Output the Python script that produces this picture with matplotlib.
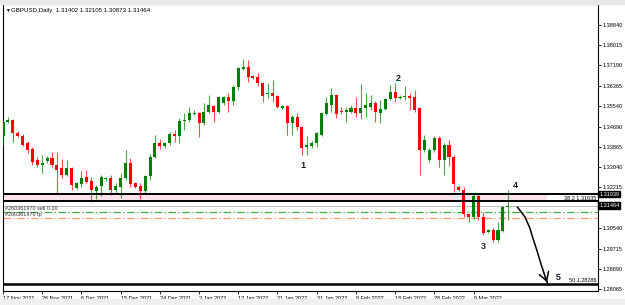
import matplotlib.pyplot as plt
from matplotlib.patches import Rectangle

plt.rcParams['font.family'] = ['Liberation Sans', 'DejaVu Sans']

# --- Data: GBPUSD daily candles ---
opens = [1.3431, 1.3488, 1.3496, 1.3443, 1.3431, 1.3402, 1.3378, 1.3333, 1.3312, 1.3329,
         1.3341, 1.3312, 1.3300, 1.3272, 1.3300, 1.3218, 1.3235, 1.3263, 1.3247, 1.3206,
         1.3227, 1.3255, 1.3259, 1.3210, 1.3223, 1.3259, 1.3321, 1.3239, 1.3227, 1.3206,
         1.3268, 1.3345, 1.3402, 1.3390, 1.3402, 1.3439, 1.3431, 1.3492, 1.3496, 1.3521,
         1.3525, 1.3484, 1.3529, 1.3553, 1.3529, 1.3565, 1.3590, 1.3574, 1.3631, 1.3704,
         1.3712, 1.3676, 1.3671, 1.3647, 1.3602, 1.3606, 1.3594, 1.3545, 1.3553, 1.3484,
         1.3508, 1.3467, 1.3386, 1.3390, 1.3402, 1.3435, 1.3521, 1.3557, 1.3598, 1.3533,
         1.3529, 1.3529, 1.3545, 1.3525, 1.3545, 1.3549, 1.3565, 1.3525, 1.3541, 1.3582,
         1.3610, 1.3586, 1.3590, 1.3594, 1.3590, 1.3545, 1.3374, 1.3333, 1.3374, 1.3423,
         1.3333, 1.3394, 1.3345, 1.3223, 1.3210, 1.3112, 1.3100, 1.3186, 1.3100, 1.3039,
         1.3047, 1.3006, 1.3043, 1.31402]
highs = [1.3496, 1.3508, 1.3500, 1.3451, 1.3439, 1.3410, 1.3386, 1.3345, 1.3353, 1.3349,
         1.3365, 1.3365, 1.3337, 1.3333, 1.3304, 1.3243, 1.3288, 1.3292, 1.3263, 1.3231,
         1.3272, 1.3263, 1.3272, 1.3239, 1.3280, 1.3374, 1.3341, 1.3243, 1.3239, 1.3272,
         1.3357, 1.3435, 1.3418, 1.3406, 1.3447, 1.3455, 1.3504, 1.3525, 1.3549, 1.3537,
         1.3529, 1.3565, 1.3598, 1.3557, 1.3594, 1.3594, 1.3606, 1.3639, 1.3712, 1.3745,
         1.3741, 1.3680, 1.3688, 1.3651, 1.3647, 1.3659, 1.3598, 1.3557, 1.3557, 1.3516,
         1.3525, 1.3471, 1.3431, 1.3410, 1.3447, 1.3529, 1.3590, 1.3627, 1.3602, 1.3549,
         1.3549, 1.3557, 1.3590, 1.3643, 1.3606, 1.3598, 1.3574, 1.3578, 1.3586, 1.3639,
         1.3647, 1.3598, 1.3635, 1.3606, 1.3618, 1.3549, 1.3435, 1.3382, 1.3431, 1.3431,
         1.3402, 1.3414, 1.3353, 1.3231, 1.3223, 1.3116, 1.3194, 1.3194, 1.3121, 1.3051,
         1.3055, 1.3080, 1.3145, 1.32105]
lows = [1.3394, 1.3484, 1.3406, 1.3427, 1.3390, 1.3361, 1.3312, 1.3304, 1.3280, 1.3321,
        1.3304, 1.3198, 1.3259, 1.3268, 1.3210, 1.3215, 1.3223, 1.3239, 1.3161, 1.3174,
        1.3186, 1.3247, 1.3190, 1.3198, 1.3178, 1.3251, 1.3223, 1.3219, 1.3174, 1.3198,
        1.3251, 1.3341, 1.3378, 1.3382, 1.3394, 1.3406, 1.3402, 1.3455, 1.3488, 1.3516,
        1.3427, 1.3476, 1.3525, 1.3488, 1.3525, 1.3557, 1.3529, 1.3557, 1.3618, 1.3700,
        1.3651, 1.3663, 1.3635, 1.3569, 1.3586, 1.3569, 1.3545, 1.3541, 1.3435, 1.3435,
        1.3455, 1.3353, 1.3353, 1.3382, 1.3386, 1.3431, 1.3516, 1.3529, 1.3504, 1.3521,
        1.3488, 1.3525, 1.3508, 1.3500, 1.3508, 1.3537, 1.3488, 1.3484, 1.3537, 1.3578,
        1.3569, 1.3582, 1.3578, 1.3537, 1.3529, 1.3272, 1.3365, 1.3325, 1.3365, 1.3304,
        1.3272, 1.3308, 1.3202, 1.3206, 1.3100, 1.3080, 1.3092, 1.3088, 1.3027, 1.3035,
        1.2998, 1.2998, 1.3039, 1.30873]
closes = [1.3488, 1.3496, 1.3443, 1.3431, 1.3394, 1.3374, 1.3325, 1.3312, 1.3321, 1.3341,
          1.3312, 1.3292, 1.3272, 1.3300, 1.3231, 1.3239, 1.3259, 1.3243, 1.3210, 1.3223,
          1.3263, 1.3259, 1.3210, 1.3227, 1.3259, 1.3321, 1.3235, 1.3223, 1.3206, 1.3268,
          1.3345, 1.3402, 1.3390, 1.3402, 1.3439, 1.3431, 1.3492, 1.3496, 1.3525, 1.3525,
          1.3484, 1.3529, 1.3557, 1.3529, 1.3590, 1.3590, 1.3574, 1.3631, 1.3708, 1.3712,
          1.3671, 1.3667, 1.3647, 1.3594, 1.3606, 1.3594, 1.3549, 1.3553, 1.3484, 1.3508,
          1.3467, 1.3382, 1.3394, 1.3402, 1.3443, 1.3525, 1.3565, 1.3598, 1.3521, 1.3529,
          1.3537, 1.3545, 1.3525, 1.3545, 1.3557, 1.3565, 1.3529, 1.3541, 1.3582, 1.3610,
          1.3586, 1.3590, 1.3594, 1.3586, 1.3537, 1.3374, 1.3414, 1.3374, 1.3423, 1.3333,
          1.3394, 1.3345, 1.3235, 1.3210, 1.3112, 1.3100, 1.3186, 1.3100, 1.3035, 1.3047,
          1.3006, 1.3047, 1.3141, 1.31464]

date_labels = ["17 Nov 2021", "26 Nov 2021", "6 Dec 2021", "15 Dec 2021", "24 Dec 2021",
               "3 Jan 2022", "12 Jan 2022", "21 Jan 2022", "31 Jan 2022", "9 Feb 2022",
               "18 Feb 2022", "28 Feb 2022", "9 Mar 2022"]
date_idx = [0, 8, 16, 24, 32, 40, 48, 56, 64, 72, 80, 88, 96]

price_ticks = [1.38840, 1.38015, 1.37190, 1.36365, 1.35540, 1.34690, 1.33865,
               1.33040, 1.32215, 1.30540, 1.29715, 1.28890, 1.28065]

hline_price = 1.31939
bid_price = 1.31464
fib_382 = 1.31635
fib_50 = 1.28286
sell_price = 1.31219
tp_price = 1.30974

wave_labels = ["1", "2", "3", "4", "5"]
wave_x = [61.3, 80.7, 98.0, 104.5, 113.2]
wave_y = [1.3312, 1.3667, 1.2978, 1.3227, 1.2855]

arrow_x = [105.0, 106.5, 107.5, 108.1, 108.9, 109.7, 110.5, 111.2]
arrow_y = [1.3140, 1.3100, 1.3055, 1.3015, 1.2966, 1.2913, 1.2864, 1.2823]

# --- Plot ---
fig = plt.figure(figsize=(6.25, 3.05), dpi=100)
fig.patches.append(Rectangle((0, 0), 1, 6 / 305, transform=fig.transFigure,
                             color="#f0f0f0", zorder=0))
fig.patches.append(Rectangle((0, 301 / 305), 1, 4 / 305, transform=fig.transFigure,
                             color="#e8e8e8", zorder=0))

ax = fig.add_axes([3 / 625, 14 / 305, 595 / 625, 287 / 305])
ax.set_xlim(0.2, 121.4)
ax.set_ylim(1.27983, 1.39693)

green, red = "#008000", "#ff0000"
for i in range(len(opens)):
    o, h, l, c = opens[i], highs[i], lows[i], closes[i]
    col = green if c >= o else red
    ax.vlines(i, l, h, color=col, linewidth=0.8, alpha=0.7, zorder=3)
    body = max(abs(c - o), 0.0004)
    ax.bar(i, body, bottom=min(o, c), width=0.62, color=col, linewidth=0, zorder=4)

# pink zone and levels
ax.add_patch(Rectangle((0.2, fib_382), 111.0 - 0.2, hline_price - fib_382,
                       facecolor="#fde1ec", edgecolor="none", zorder=1))
ax.axhline(hline_price, color="black", linewidth=1.4, zorder=5)
ax.axhline(fib_382, color="black", linewidth=1.4, zorder=5)
ax.axhline(fib_50, color="black", linewidth=1.8, zorder=5)
ax.axhline(bid_price, color="#c0c0c0", linewidth=0.7, zorder=2)
ax.axhline(sell_price, color="#3cb043", linewidth=0.9, linestyle=(0, (6, 2, 1, 2)), zorder=2)
ax.axhline(tp_price, color="#ff9a70", linewidth=0.9, linestyle=(0, (6, 2, 1, 2)), zorder=2)

small = 4.0
ax.text(0.997, fib_382 + 0.0002, "38.2 1.31635", transform=ax.get_yaxis_transform(),
        ha="right", va="bottom", fontsize=small, zorder=6)
ax.text(0.997, fib_50 + 0.0003, "50 1.28286", transform=ax.get_yaxis_transform(),
        ha="right", va="bottom", fontsize=small, zorder=6)
ax.text(0.004, sell_price + 0.0001, "#260361970 sell 0.20", transform=ax.get_yaxis_transform(),
        ha="left", va="bottom", fontsize=small, color="#333333")
ax.text(0.004, tp_price + 0.0001, "#260361970 tp", transform=ax.get_yaxis_transform(),
        ha="left", va="bottom", fontsize=small, color="#333333")

for lab, x, y in zip(wave_labels, wave_x, wave_y):
    ax.text(x, y, lab, ha="center", va="center", fontsize=6.5, fontweight="bold",
            color="#1c1c2c", zorder=7)

ax.plot(arrow_x, arrow_y, color="black", linewidth=1.1, zorder=7)
ax.annotate("", xy=(arrow_x[-1], arrow_y[-1]), xytext=(arrow_x[-2], arrow_y[-2]),
            arrowprops=dict(arrowstyle="->,head_length=0.6,head_width=0.35",
                            color="black", linewidth=1.1), zorder=7)

# title
ax.text(0.003, 0.985, "\u25bc", transform=ax.transAxes, fontsize=3.5, va="top", ha="left")
ax.text(0.014, 0.985, "GBPUSD,Daily  1.31402 1.32105 1.30873 1.31464",
        transform=ax.transAxes, fontsize=4.4, va="top", ha="left")

# axes: MT4 style, prices on the right
for s in ax.spines.values():
    s.set_linewidth(0.8)
    s.set_color("black")
ax.yaxis.tick_right()
ax.set_yticks(price_ticks)
ax.set_yticklabels([f"{p:.5f}" for p in price_ticks], fontsize=small)
ax.set_xticks(date_idx)
ax.set_xticklabels(date_labels, fontsize=small)
for t in ax.get_xticklabels():
    t.set_ha("left")
ax.tick_params(axis="both", direction="out", length=2.5, width=0.6, pad=0.8)

for price in [hline_price, bid_price]:
    ax.text(1.002, price, f"{price:.5f}", transform=ax.get_yaxis_transform(),
            ha="left", va="center", fontsize=small, color="white", clip_on=False,
            bbox=dict(boxstyle="square,pad=0.15", facecolor="black", edgecolor="black"))

fig.savefig("out.png", dpi=100)
